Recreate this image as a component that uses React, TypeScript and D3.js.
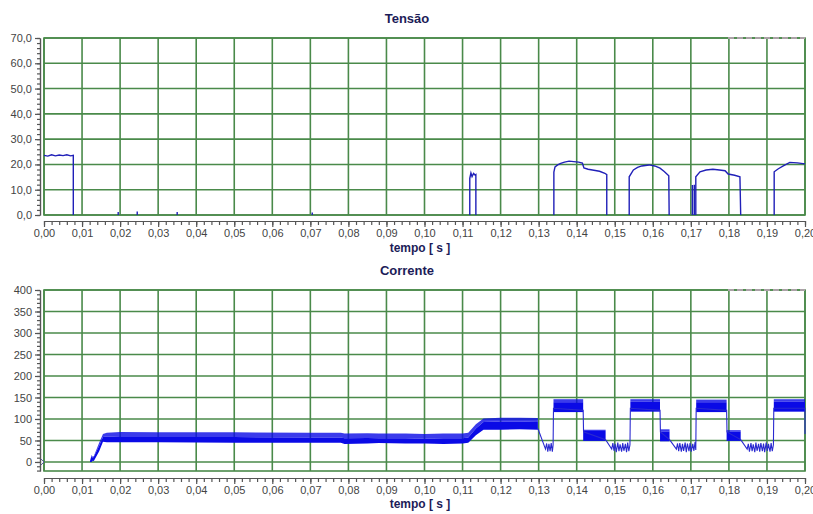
import * as d3 from 'd3';
import {useEffect, useRef} from "react";

// time axis ticks (s)
const timeTicks = [0, 0.01, 0.02, 0.03, 0.04, 0.05, 0.06, 0.07, 0.08, 0.09, 0.10,
    0.11, 0.12, 0.13, 0.14, 0.15, 0.16, 0.17, 0.18, 0.19, 0.20];
const voltTicks = [0, 10, 20, 30, 40, 50, 60, 70];
const currTicks = [0, 50, 100, 150, 200, 250, 300, 350, 400];

// Tensão trace (null = gap)
const voltT = [
    0, 0.001, 0.002, 0.003, 0.004, 0.005, 0.006, 0.007, 0.0077, 0.0077, 0.0078,
    0.0195, 0.0195, 0.0196,
    0.0245, 0.0245, 0.0246,
    0.035, 0.035, 0.0351,
    0.0705, 0.0705, 0.0706,
    0.1119, 0.1119, 0.1122, 0.1125, 0.1129, 0.1133, 0.1135, 0.1135, 0.1136,
    0.1340, 0.1340, 0.1343, 0.1350, 0.1358, 0.1368, 0.1380, 0.1392, 0.1405, 0.1415, 0.1419, 0.1430, 0.1445, 0.1460, 0.1474, 0.1479, 0.1479, 0.1480,
    0.1538, 0.1538, 0.1549, 0.1560, 0.1571, 0.1590, 0.1605, 0.1619, 0.1630, 0.1642, 0.1643, 0.1644,
    0.1704, 0.1704, 0.1705,
    0.1709, 0.1709, 0.1710,
    0.1713, 0.1713, 0.1724, 0.1740, 0.1758, 0.1775, 0.1790, 0.1798, 0.1815, 0.1829, 0.1831, 0.1832,
    0.1919, 0.1919, 0.1930, 0.1943, 0.1960, 0.1980, 0.2000,
];
const voltV = [
    23.6, 23.3, 23.8, 23.4, 23.7, 23.5, 23.8, 23.4, 23.6, 0, null,
    0, 1.2, null,
    0, 1.4, null,
    0, 1.2, null,
    0, 1.0, null,
    0, 14.5, 16.6, 15.2, 16.4, 15.8, 16.0, 0, null,
    0, 17, 19, 19.8, 20.4, 20.9, 21.3, 21.1, 20.9, 20.5, 18.6, 18.1, 17.7, 17.3, 16.5, 16, 0, null,
    0, 15.1, 17.8, 18.8, 19.4, 19.8, 19.4, 18.5, 17.2, 15.5, 0, null,
    0, 11.9, null,
    0, 12.0, null,
    0, 15.1, 17.1, 17.8, 18.1, 17.8, 17.5, 16.2, 15.7, 15.1, 0, null,
    0, 17.1, 18.3, 19.4, 20.8, 20.6, 20.2,
];

// Corrente: first long noisy band (lower edge, dense top, spike top)
const bandT = [0.0121, 0.0125, 0.0128, 0.0131, 0.0145, 0.0155, 0.0165, 0.02, 0.03, 0.05, 0.07, 0.078,
    0.079, 0.085, 0.088, 0.095, 0.10, 0.105, 0.11, 0.1115, 0.1135, 0.1155, 0.12, 0.125, 0.1298];
const bandLo = [0, 0, 3, 2, 25, 47, 46, 46, 46, 45, 45, 45, 42, 43, 44, 43, 43, 42, 43, 45, 62, 75, 75, 76, 75];
const bandMid = [3, 14, 10, 12, 38, 58, 59, 58, 58, 58, 57, 57, 55, 56, 55, 55, 54, 55, 55, 57, 78, 93, 94, 94, 93];
const bandHi = [3, 16, 12, 14, 45, 65, 68, 70, 69, 69, 68, 68, 66, 67, 66, 66, 65, 66, 66, 68, 88, 101, 103, 103, 102];

// Corrente: high and middle plateaus
const highStart = [0.1339, 0.1541, 0.1714, 0.1918];
const highEnd = [0.1417, 0.1619, 0.1794, 0.2000];
const highLo = [116, 117, 116, 117];
const highMid = [139, 140, 139, 140];
const highHi = [146, 146, 145, 146];
const midStart = [0.1417, 0.1619, 0.1794];
const midEnd = [0.1476, 0.1644, 0.1831];
const midLo = [49, 48, 49];
const midMid = [72, 71, 71];
const midHi = [75, 76, 74];

// Corrente: thin trace between plateaus (drops and zig-zag sections)
const traceT = [
    0.1298, 0.1318, 0.1321, 0.1324, 0.1327, 0.1330, 0.1333, 0.1336, 0.1338, 0.1339,
    0.1417, 0.1418,
    0.1476, 0.1492, 0.1495, 0.1498, 0.1501, 0.1504, 0.1508, 0.1511, 0.1514, 0.1518, 0.1521, 0.1524,
    0.1528, 0.1531, 0.1534, 0.1537, 0.1540, 0.1541,
    0.1619, 0.1620,
    0.1644, 0.1662, 0.1665, 0.1668, 0.1671, 0.1675, 0.1678, 0.1681, 0.1685, 0.1688, 0.1691, 0.1695,
    0.1698, 0.1701, 0.1705, 0.1708, 0.1711, 0.1713, 0.1714,
    0.1794, 0.1795,
    0.1831, 0.1848, 0.1851, 0.1854, 0.1858, 0.1861, 0.1864, 0.1868, 0.1871, 0.1874, 0.1878, 0.1881,
    0.1884, 0.1888, 0.1891, 0.1894, 0.1898, 0.1901, 0.1904, 0.1908, 0.1911, 0.1914, 0.1917, 0.1918,
    0.2000, 0.2000,
];
const traceV = [
    78, 30, 43, 24, 42, 25, 44, 24, 40, 125,
    120, 70,
    52, 30, 44, 26, 42, 23, 45, 25, 41, 24, 44, 26,
    42, 23, 45, 25, 40, 125,
    120, 70,
    52, 30, 43, 25, 44, 24, 42, 26, 45, 23, 43, 25,
    44, 24, 42, 26, 46, 28, 125,
    120, 70,
    52, 30, 42, 24, 44, 25, 41, 23, 45, 26, 42, 24,
    44, 25, 43, 23, 45, 26, 42, 24, 44, 25, 40, 125,
    125, 65,
];

export default function ChartComponent() {
    const chartRef = useRef(null);

    useEffect(() => {
        const width = 813;
        const height = 514;
        const xLeft = 44;
        const xRight = 805;
        const font = "'Liberation Sans', Arial, sans-serif";
        const gridColor = "#4a8a4a";
        const axisColor = "#555";
        const labelColor = "#444";
        const titleColor = "#1c1c58";

        d3.select(chartRef.current).selectAll("*").remove();
        const svg = d3.select(chartRef.current)
            .append("svg")
            .attr("width", width)
            .attr("height", height)
            .style("position", "absolute")
            .style("left", 0)
            .style("top", 0)
            .style("background", "#fff");

        const x = d3.scaleLinear().domain([0, 0.2]).range([xLeft, xRight]);
        const fmtX = (d) => d3.format(".2f")(d).replace(".", ",");

        function panel(top, bottom, yDomain, yTicks, yMinor, fmtY, axisY, title, titleY, labelY) {
            const y = d3.scaleLinear().domain(yDomain).range([bottom, top]);
            const g = svg.append("g");

            // grid
            g.selectAll(".hgrid").data(yTicks.filter(d => d >= yDomain[0])).join("line")
                .attr("x1", xLeft).attr("x2", xRight)
                .attr("y1", d => y(d)).attr("y2", d => y(d))
                .attr("stroke", gridColor).attr("stroke-width", 1.6);
            g.selectAll(".vgrid").data(timeTicks).join("line")
                .attr("x1", d => x(d)).attr("x2", d => x(d))
                .attr("y1", top).attr("y2", bottom)
                .attr("stroke", gridColor).attr("stroke-width", 1.6);
            g.append("rect")
                .attr("x", xLeft).attr("y", top)
                .attr("width", xRight - xLeft).attr("height", bottom - top)
                .attr("fill", "none").attr("stroke", gridColor).attr("stroke-width", 1.6);
            // faint dashed marker top right
            g.append("line")
                .attr("x1", 728).attr("x2", xRight).attr("y1", top).attr("y2", top)
                .attr("stroke", "#c9a8c4").attr("stroke-width", 1.4).attr("stroke-dasharray", "6,3");

            // y axis
            const yAxisG = g.append("g").attr("transform", `translate(40,0)`);
            yAxisG.append("g")
                .call(d3.axisLeft(y).tickValues(yMinor).tickSize(3).tickSizeOuter(0).tickFormat(""));
            yAxisG.append("g")
                .call(d3.axisLeft(y).tickValues(yTicks).tickSize(5).tickSizeOuter(0).tickFormat(fmtY));
            yAxisG.selectAll("path,line").attr("stroke", axisColor).attr("stroke-width", 1.2);
            yAxisG.selectAll("text").attr("fill", labelColor).style("font", `11px ${font}`);

            // x axis
            const xAxisG = g.append("g").attr("transform", `translate(0,${axisY})`);
            xAxisG.append("g")
                .call(d3.axisBottom(x).tickValues(d3.range(0, 101).map(i => i * 0.002)).tickSize(4).tickSizeOuter(0).tickFormat(""));
            xAxisG.append("g")
                .call(d3.axisBottom(x).tickValues(timeTicks).tickSize(6).tickSizeOuter(0).tickPadding(2).tickFormat(fmtX));
            xAxisG.selectAll("path,line").attr("stroke", axisColor).attr("stroke-width", 1.2);
            xAxisG.selectAll("text").attr("fill", labelColor).style("font", `11px ${font}`);

            svg.append("text")
                .attr("x", 407).attr("y", titleY)
                .attr("text-anchor", "middle")
                .attr("fill", titleColor)
                .style("font", `bold 13px ${font}`)
                .text(title);
            svg.append("text")
                .attr("x", 420).attr("y", labelY)
                .attr("text-anchor", "middle")
                .attr("fill", titleColor)
                .style("font", `bold 12px ${font}`)
                .text("tempo [ s ]");
            return {g, y};
        }

        // Tensão
        const top = panel(38, 215, [0, 70], voltTicks, d3.range(0, 71, 2), d => d3.format(".1f")(d).replace(".", ","),
            221, "Tensão", 23, 252);
        const voltPts = voltT.map((t, i) => [t, voltV[i]]);
        top.g.append("path")
            .datum(voltPts)
            .attr("fill", "none")
            .attr("stroke", "#2020b8")
            .attr("stroke-width", 1.4)
            .attr("d", d3.line().defined(d => d[1] != null).x(d => x(d[0])).y(d => top.y(d[1])));

        // Corrente
        const bot = panel(290, 471, [-21, 400], currTicks, d3.range(-20, 401, 10), d3.format("d"),
            478, "Corrente", 275, 508);
        const blue = "#0a0ae6";
        const area = (lo, hi) => d3.area().x(d => x(d.t)).y0(d => bot.y(d[lo])).y1(d => bot.y(d[hi]));
        const band = bandT.map((t, i) => ({t, lo: bandLo[i], mid: bandMid[i], hi: bandHi[i]}));
        bot.g.append("path").datum(band).attr("fill", blue).attr("opacity", 0.8).attr("d", area("mid", "hi"));
        bot.g.append("path").datum(band).attr("fill", blue).attr("d", area("lo", "mid"));

        const blocks = [
            ...highStart.map((s, i) => ({s, e: highEnd[i], lo: highLo[i], mid: highMid[i], hi: highHi[i]})),
            ...midStart.map((s, i) => ({s, e: midEnd[i], lo: midLo[i], mid: midMid[i], hi: midHi[i]})),
        ];
        blocks.forEach(b => {
            const pts = [{t: b.s, ...b}, {t: b.e, ...b}];
            bot.g.append("path").datum(pts).attr("fill", blue).attr("opacity", 0.8).attr("d", area("mid", "hi"));
            bot.g.append("path").datum(pts).attr("fill", blue).attr("d", area("lo", "mid"));
        });

        bot.g.append("path")
            .datum(traceT.map((t, i) => [t, traceV[i]]))
            .attr("fill", "none")
            .attr("stroke", "#2a2ad0")
            .attr("stroke-width", 1.1)
            .attr("d", d3.line().x(d => x(d[0])).y(d => bot.y(d[1])));

        // small zero marker at left
        bot.g.append("path")
            .attr("d", `M41,${bot.y(0) - 3}L44,${bot.y(0)}L41,${bot.y(0) + 3}`)
            .attr("fill", "none").attr("stroke", "#5a5aa0").attr("stroke-width", 1);
    }, []);

    return (
        <div ref={chartRef} className="chart"></div>
    );
}
